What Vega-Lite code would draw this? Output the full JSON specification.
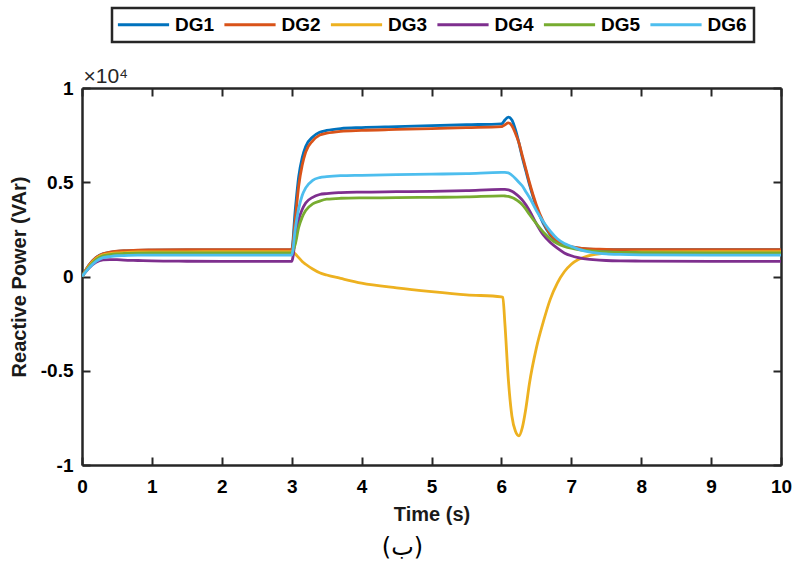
{
  "$schema": "https://vega.github.io/schema/vega-lite/v6.json",
  "width": 699,
  "height": 377,
  "autosize": {"type": "none"},
  "padding": {"left": 82, "top": 88, "right": 12, "bottom": 97},
  "background": "white",
  "title": {
    "text": "(ب)",
    "orient": "bottom",
    "anchor": "middle",
    "font": "DejaVu Sans",
    "fontSize": 24,
    "fontWeight": "normal",
    "color": "#000000",
    "offset": 12,
    "dx": -29
  },
  "config": {
    "view": {"stroke": null},
    "font": "Liberation Sans",
    "axis": {
      "domainColor": "#262626",
      "domainWidth": 2.5,
      "tickColor": "#262626",
      "tickWidth": 2,
      "tickSize": -8,
      "grid": false,
      "labelFlush": false,
      "labelFont": "Liberation Sans",
      "labelFontWeight": "bold",
      "labelFontSize": 19,
      "labelColor": "#000000",
      "titleFont": "Liberation Sans",
      "titleFontWeight": "bold",
      "titleFontSize": 20,
      "titleColor": "#1a1a1a"
    },
    "legend": {
      "orient": "none",
      "legendX": 30,
      "legendY": -80,
      "direction": "horizontal",
      "symbolType": "M-3.2,0H3.2",
      "symbolSize": 256,
      "symbolStrokeWidth": 3,
      "symbolOffset": 15,
      "labelFont": "Liberation Sans",
      "labelFontWeight": "bold",
      "labelFontSize": 19,
      "labelColor": "#000000",
      "labelOffset": 22,
      "columnPadding": 2.5,
      "padding": 7,
      "strokeColor": "#262626",
      "strokeWidth": 2.5,
      "fillColor": "white"
    }
  },
  "data": {
    "values": [
      {"t": 0, "DG1": 0, "DG2": 0, "DG3": 0, "DG4": 0, "DG5": 0, "DG6": 0},
      {"t": 0.1, "DG1": 600, "DG2": 600, "DG3": 550, "DG4": 450, "DG5": 500, "DG6": 450},
      {"t": 0.2, "DG1": 1000, "DG2": 1000, "DG3": 950, "DG4": 750, "DG5": 900, "DG6": 800},
      {"t": 0.3, "DG1": 1200, "DG2": 1200, "DG3": 1150, "DG4": 880, "DG5": 1100, "DG6": 1000},
      {"t": 0.4, "DG1": 1280, "DG2": 1290, "DG3": 1210, "DG4": 900, "DG5": 1160, "DG6": 1060},
      {"t": 0.5, "DG1": 1330, "DG2": 1340, "DG3": 1250, "DG4": 890, "DG5": 1200, "DG6": 1100},
      {"t": 0.6, "DG1": 1360, "DG2": 1370, "DG3": 1270, "DG4": 870, "DG5": 1220, "DG6": 1110},
      {"t": 0.8, "DG1": 1390, "DG2": 1400, "DG3": 1300, "DG4": 850, "DG5": 1240, "DG6": 1130},
      {"t": 1.0, "DG1": 1400, "DG2": 1410, "DG3": 1310, "DG4": 830, "DG5": 1250, "DG6": 1130},
      {"t": 1.5, "DG1": 1410, "DG2": 1420, "DG3": 1310, "DG4": 810, "DG5": 1250, "DG6": 1130},
      {"t": 2.0, "DG1": 1410, "DG2": 1420, "DG3": 1320, "DG4": 800, "DG5": 1250, "DG6": 1130},
      {"t": 3.0, "DG1": 1420, "DG2": 1430, "DG3": 1320, "DG4": 800, "DG5": 1250, "DG6": 1130},
      {"t": 3.05, "DG1": 3500, "DG2": 3000, "DG3": 1200, "DG4": 1900, "DG5": 1700, "DG6": 2500},
      {"t": 3.1, "DG1": 5300, "DG2": 4800, "DG3": 1000, "DG4": 3000, "DG5": 2600, "DG6": 3600},
      {"t": 3.15, "DG1": 6300, "DG2": 5900, "DG3": 800, "DG4": 3550, "DG5": 3150, "DG6": 4300},
      {"t": 3.2, "DG1": 6900, "DG2": 6600, "DG3": 650, "DG4": 3900, "DG5": 3500, "DG6": 4700},
      {"t": 3.3, "DG1": 7400, "DG2": 7200, "DG3": 400, "DG4": 4200, "DG5": 3850, "DG6": 5100},
      {"t": 3.4, "DG1": 7650, "DG2": 7500, "DG3": 200, "DG4": 4350, "DG5": 4000, "DG6": 5250},
      {"t": 3.5, "DG1": 7750, "DG2": 7600, "DG3": 80, "DG4": 4400, "DG5": 4100, "DG6": 5300},
      {"t": 3.7, "DG1": 7850, "DG2": 7700, "DG3": -100, "DG4": 4450, "DG5": 4150, "DG6": 5350},
      {"t": 4.0, "DG1": 7900, "DG2": 7750, "DG3": -350, "DG4": 4480, "DG5": 4170, "DG6": 5370},
      {"t": 4.5, "DG1": 7950, "DG2": 7800, "DG3": -600, "DG4": 4500, "DG5": 4180, "DG6": 5400},
      {"t": 5.0, "DG1": 8000, "DG2": 7850, "DG3": -800, "DG4": 4520, "DG5": 4200, "DG6": 5430},
      {"t": 5.5, "DG1": 8050, "DG2": 7900, "DG3": -970, "DG4": 4560, "DG5": 4220, "DG6": 5460},
      {"t": 6.0, "DG1": 8100, "DG2": 7950, "DG3": -1080, "DG4": 4620, "DG5": 4280, "DG6": 5520},
      {"t": 6.02, "DG1": 8150, "DG2": 7980, "DG3": -1100, "DG4": 4620, "DG5": 4280, "DG6": 5520},
      {"t": 6.05, "DG1": 8300, "DG2": 8050, "DG3": -2500, "DG4": 4620, "DG5": 4270, "DG6": 5520},
      {"t": 6.1, "DG1": 8450, "DG2": 8150, "DG3": -5500, "DG4": 4600, "DG5": 4250, "DG6": 5500},
      {"t": 6.15, "DG1": 8300, "DG2": 8000, "DG3": -7400, "DG4": 4520, "DG5": 4190, "DG6": 5370},
      {"t": 6.2, "DG1": 7800, "DG2": 7600, "DG3": -8200, "DG4": 4400, "DG5": 4100, "DG6": 5200},
      {"t": 6.25, "DG1": 7100, "DG2": 7100, "DG3": -8450, "DG4": 4240, "DG5": 3970, "DG6": 5000},
      {"t": 6.3, "DG1": 6300, "DG2": 6400, "DG3": -8000, "DG4": 4050, "DG5": 3800, "DG6": 4800},
      {"t": 6.35, "DG1": 5600, "DG2": 5700, "DG3": -7000, "DG4": 3800, "DG5": 3570, "DG6": 4500},
      {"t": 6.4, "DG1": 4900, "DG2": 5000, "DG3": -5700, "DG4": 3500, "DG5": 3300, "DG6": 4200},
      {"t": 6.5, "DG1": 3700, "DG2": 3800, "DG3": -3800, "DG4": 2800, "DG5": 2800, "DG6": 3500},
      {"t": 6.6, "DG1": 2800, "DG2": 2900, "DG3": -2400, "DG4": 2200, "DG5": 2350, "DG6": 2900},
      {"t": 6.7, "DG1": 2200, "DG2": 2250, "DG3": -1200, "DG4": 1800, "DG5": 2000, "DG6": 2400},
      {"t": 6.8, "DG1": 1850, "DG2": 1900, "DG3": -350, "DG4": 1500, "DG5": 1750, "DG6": 2000},
      {"t": 6.9, "DG1": 1650, "DG2": 1700, "DG3": 250, "DG4": 1250, "DG5": 1600, "DG6": 1750},
      {"t": 7.0, "DG1": 1550, "DG2": 1580, "DG3": 650, "DG4": 1100, "DG5": 1500, "DG6": 1600},
      {"t": 7.1, "DG1": 1500, "DG2": 1520, "DG3": 900, "DG4": 1000, "DG5": 1430, "DG6": 1450},
      {"t": 7.2, "DG1": 1470, "DG2": 1480, "DG3": 1050, "DG4": 930, "DG5": 1380, "DG6": 1350},
      {"t": 7.4, "DG1": 1440, "DG2": 1450, "DG3": 1200, "DG4": 870, "DG5": 1320, "DG6": 1230},
      {"t": 7.5, "DG1": 1430, "DG2": 1440, "DG3": 1230, "DG4": 850, "DG5": 1300, "DG6": 1200},
      {"t": 7.7, "DG1": 1420, "DG2": 1430, "DG3": 1270, "DG4": 830, "DG5": 1280, "DG6": 1170},
      {"t": 8.0, "DG1": 1420, "DG2": 1430, "DG3": 1300, "DG4": 820, "DG5": 1270, "DG6": 1150},
      {"t": 9.0, "DG1": 1420, "DG2": 1430, "DG3": 1320, "DG4": 800, "DG5": 1250, "DG6": 1130},
      {"t": 10.0, "DG1": 1420, "DG2": 1430, "DG3": 1320, "DG4": 800, "DG5": 1250, "DG6": 1130}
    ]
  },
  "transform": [
    {"fold": ["DG1", "DG2", "DG3", "DG4", "DG5", "DG6"], "as": ["unit", "q"]}
  ],
  "resolve": {"axis": {"x": "independent", "y": "independent"}},
  "layer": [
    {
      "mark": {"type": "line", "strokeWidth": 2.8, "interpolate": "monotone", "clip": true},
      "encoding": {
        "x": {
          "field": "t",
          "type": "quantitative",
          "scale": {"domain": [0, 10], "nice": false, "zero": false},
          "axis": {
            "orient": "bottom",
            "values": [0, 1, 2, 3, 4, 5, 6, 7, 8, 9, 10],
            "format": "d",
            "labelPadding": 20,
            "title": "Time (s)",
            "titlePadding": 8
          }
        },
        "y": {
          "field": "q",
          "type": "quantitative",
          "scale": {"domain": [-10000, 10000], "nice": false},
          "axis": {
            "orient": "left",
            "values": [-10000, -5000, 0, 5000, 10000],
            "labelExpr": "'' + datum.value / 10000",
            "labelPadding": 17,
            "title": "Reactive Power (VAr)",
            "titlePadding": 11
          }
        },
        "color": {
          "field": "unit",
          "type": "nominal",
          "scale": {
            "domain": ["DG1", "DG2", "DG3", "DG4", "DG5", "DG6"],
            "range": ["#0072BD", "#D95319", "#EDB120", "#7E2F8E", "#77AC30", "#4DBEEE"]
          },
          "legend": {"title": null}
        }
      }
    },
    {
      "mark": {"type": "line", "strokeOpacity": 0},
      "encoding": {
        "x": {
          "field": "t",
          "type": "quantitative",
          "axis": {
            "orient": "top",
            "values": [0, 1, 2, 3, 4, 5, 6, 7, 8, 9, 10],
            "labels": false,
            "title": "×10⁴",
            "titleFontWeight": "normal",
            "titleFontSize": 21,
            "titleColor": "#262626",
            "titleAnchor": "start",
            "titleAlign": "left",
            "titleBaseline": "alphabetic",
            "titleX": 1,
            "titleY": -6
          }
        },
        "y": {
          "field": "q",
          "type": "quantitative",
          "axis": {
            "orient": "right",
            "values": [-10000, -5000, 0, 5000, 10000],
            "labels": false,
            "title": null
          }
        },
        "detail": {"field": "unit"}
      }
    }
  ]
}
